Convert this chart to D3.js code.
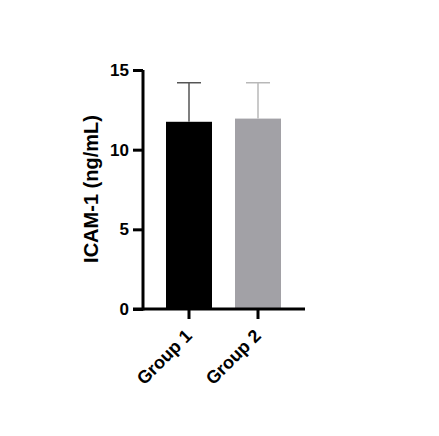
<!DOCTYPE html>
<html>
<head>
<meta charset="utf-8">
<script src="https://cdn.jsdelivr.net/npm/d3@7"></script>
<style>
  body { margin: 0; background: #fff; }
  text { font-family: "Liberation Sans", Arial, sans-serif; font-weight: bold; }
</style>
</head>
<body>
<div id="chart"></div>
<script>
// ----- Bar chart with error bars -----
const groups = ["Group 1", "Group 2"];
const means = [11.75, 11.95];
const errTops = [14.2, 14.2];
const yTicks = [0, 5, 10, 15];
const barColors = ["#000000", "#a2a1a6"];
const errColors = ["#555555", "#b8b8b8"];

const width = 439, height = 436;
const svg = d3.select("#chart").append("svg")
    .attr("width", width)
    .attr("height", height);

const x = d3.scaleBand().domain(groups).range([120, 327]).paddingInner(1 / 3).paddingOuter(2 / 3);
const y = d3.scaleLinear().domain([0, 15]).range([309, 70]);

// bars
svg.selectAll(".bar")
    .data(groups)
    .enter().append("rect")
    .attr("x", d => x(d))
    .attr("y", (d, i) => y(means[i]))
    .attr("width", x.bandwidth())
    .attr("height", (d, i) => y(0) - y(means[i]))
    .attr("fill", (d, i) => barColors[i]);

// error bars (upper only)
const cap = 12;
groups.forEach((g, i) => {
    const cx = x(g) + x.bandwidth() / 2;
    svg.append("line")
        .attr("x1", cx).attr("x2", cx)
        .attr("y1", y(means[i])).attr("y2", y(errTops[i]))
        .style("stroke", errColors[i]).style("stroke-width", 1.5);
    svg.append("line")
        .attr("x1", cx - cap).attr("x2", cx + cap)
        .attr("y1", y(errTops[i])).attr("y2", y(errTops[i]))
        .style("stroke", errColors[i]).style("stroke-width", 1.5);
});

// y axis
const yAxis = svg.append("g")
    .attr("transform", "translate(143,0)")
    .call(d3.axisLeft(y).tickValues(yTicks).tickSize(10).tickPadding(4));
yAxis.select(".domain").attr("d", `M0,${y(15)}V${y(0) + 1.5}`).style("stroke-width", 3);
yAxis.selectAll(".tick line").style("stroke-width", 3);
yAxis.selectAll("text").style("font-size", "17px").attr("fill", "#000");

// x axis
const xAxis = svg.append("g")
    .attr("transform", "translate(0,309)")
    .call(d3.axisBottom(x).tickSize(10).tickPadding(6));
xAxis.select(".domain").attr("d", "M133,0H305").style("stroke-width", 3);
xAxis.selectAll(".tick line").style("stroke-width", 3);
xAxis.selectAll("text")
    .style("font-size", "18px")
    .attr("fill", "#000")
    .attr("text-anchor", "end")
    .attr("y", 0)
    .attr("dy", null)
    .attr("transform", "translate(4,28) rotate(-45)");

// y label
svg.append("text")
    .attr("transform", "translate(97.5,189) rotate(-90)")
    .attr("text-anchor", "middle")
    .style("font-size", "20px")
    .text("ICAM-1 (ng/mL)");
</script>
</body>
</html>
